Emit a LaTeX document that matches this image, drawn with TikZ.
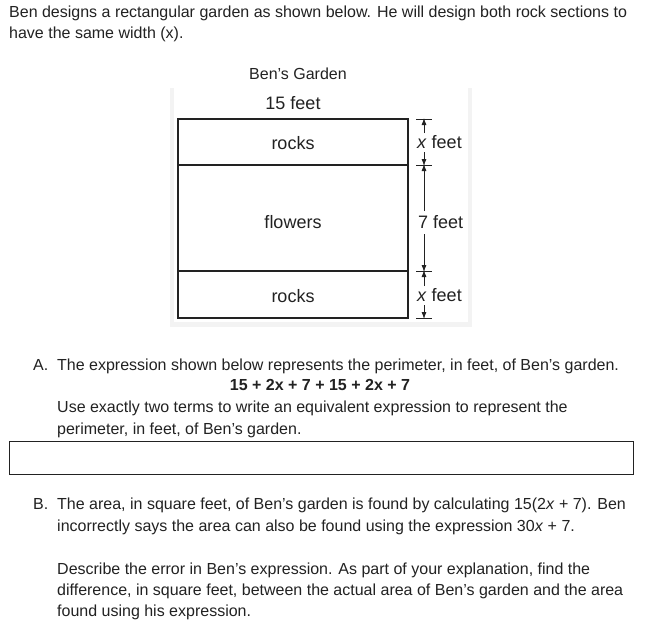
\documentclass[tikz,border=0pt]{standalone}
\usepackage{fontspec}
\setmainfont{Liberation Sans}
\usetikzlibrary{arrows.meta}
\definecolor{ink}{HTML}{222222}
\definecolor{panel}{HTML}{F3F3F3}
\begin{document}
\begin{tikzpicture}[x=1pt,y=-1pt,
  txt/.style={inner sep=0pt,anchor=base west,text=ink,font=\fontsize{16}{19}\selectfont},
  lbl/.style={inner sep=0pt,text=ink,font=\fontsize{18}{21}\selectfont},
  wall/.style={draw=ink,line width=1.8pt},
  tick/.style={draw=ink,line width=0.8pt},
  dim/.style={draw=ink,line width=0.8pt,-{Latex[length=7pt,width=5pt]}}]
\useasboundingbox[fill=white] (0,0) rectangle (653,621);
% intro
\node[txt] (l1) at (9,17) {Ben designs a rectangular garden as shown below. He will design both rock sections to};
\node[txt] (l2) at (9,38) {have the same width (x).};
% figure panel
\fill[panel] (170,88) rectangle (472,327);
\fill[white] (174,88) rectangle (468,322);
\node[lbl,font=\fontsize{16}{19}\selectfont] (title) at (298,74) {Ben’s Garden};
\node[lbl] (w) at (293,103) {15 feet};
\draw[wall] (178,119) rectangle (408,318);
\draw[wall] (178,165) -- (408,165);
\draw[wall] (178,271) -- (408,271);
\node[lbl] (r1) at (293,143) {rocks};
\node[lbl] (fl) at (293,222) {flowers};
\node[lbl] (r2) at (293,296) {rocks};
% dimension
\coordinate (t1) at (424,119);
\coordinate (t2) at (424,165);
\coordinate (t3) at (424,271);
\coordinate (t4) at (424,318);
\foreach \t in {t1,t2,t3,t4} \draw[tick] ([xshift=-8pt]\t) -- ([xshift=8pt]\t);
\node[lbl,anchor=west] (d1) at (417,142) {\textit{x} feet};
\node[lbl,anchor=west] (d2) at (418,222) {7 feet};
\node[lbl,anchor=west] (d3) at (417,295) {\textit{x} feet};
\coordinate (a1) at (424,133); \coordinate (b1) at (424,152);
\coordinate (a2) at (424,211); \coordinate (b2) at (424,234);
\coordinate (a3) at (424,286); \coordinate (b3) at (424,305);
\draw[dim] (a1) -- ([yshift=1pt]t1);
\draw[dim] (b1) -- ([yshift=-1pt]t2);
\draw[dim] (a2) -- ([yshift=1pt]t2);
\draw[dim] (b2) -- ([yshift=-1pt]t3);
\draw[dim] (a3) -- ([yshift=1pt]t3);
\draw[dim] (b3) -- ([yshift=-1pt]t4);
% part A
\node[txt] (A) at (33,370) {A.};
\node[txt] (A1) at (57,370) {The expression shown below represents the perimeter, in feet, of Ben’s garden.};
\node[txt,anchor=base,font=\fontsize{16}{19}\selectfont\bfseries] (A2) at (320,390) {15 + 2x + 7 + 15 + 2x + 7};
\node[txt] (A3) at (57,412) {Use exactly two terms to write an equivalent expression to represent the};
\node[txt] (A4) at (57,434) {perimeter, in feet, of Ben’s garden.};
\draw[draw=ink,line width=1pt] (9,441) rectangle (633,474);
% part B
\node[txt] (B) at (33,509) {B.};
\node[txt] (B1) at (57,509) {The area, in square feet, of Ben’s garden is found by calculating 15(2\textit{x} + 7). Ben};
\node[txt] (B2) at (57,531) {incorrectly says the area can also be found using the expression 30\textit{x} + 7.};
\node[txt] (B3) at (57,574) {Describe the error in Ben’s expression. As part of your explanation, find the};
\node[txt] (B4) at (57,595) {difference, in square feet, between the actual area of Ben’s garden and the area};
\node[txt] (B5) at (57,616) {found using his expression.};
\end{tikzpicture}
\end{document}
